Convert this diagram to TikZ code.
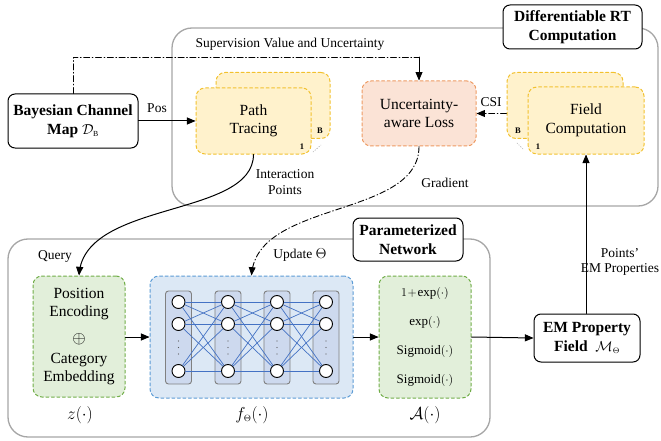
\documentclass[tikz,border=0pt]{standalone}
\usepackage{fontspec}
\setmainfont{Liberation Serif}
\usepackage{amsmath,amssymb}
\usetikzlibrary{arrows}

\definecolor{ptfill}{HTML}{FFF2CC}
\definecolor{ptdraw}{HTML}{F2C12E}
\definecolor{lossfill}{HTML}{FBE3D6}
\definecolor{lossdraw}{HTML}{EE9A62}
\definecolor{encfill}{HTML}{E2EFDA}
\definecolor{encdraw}{HTML}{70AD47}
\definecolor{nnfill}{HTML}{DCE8F5}
\definecolor{nndraw}{HTML}{5B9BD5}
\definecolor{colfill}{HTML}{CDD9EE}
\definecolor{edgeblue}{HTML}{4472C4}
\definecolor{framegray}{HTML}{A6A6A6}

\begin{document}
\begin{tikzpicture}[line cap=round,line join=round,>=triangle 45,x=1pt,y=-1pt,
	txt/.style={font=\fontsize{15.5}{17.5}\selectfont,align=center},
	small/.style={font=\fontsize{13.5}{15.5}\selectfont,align=center},
	blackbox/.style={draw=black,line width=1pt,rounded corners=7pt,fill=white,align=center,inner sep=0pt,font=\fontsize{15.5}{19}\selectfont\bfseries},
	dbox/.style={line width=1pt,dash pattern=on 3pt off 2.5pt,rounded corners=9pt,inner sep=0pt,align=center,font=\fontsize{15.5}{18.5}\selectfont},
	ptbox/.style={dbox,draw=ptdraw,fill=ptfill},
	frame/.style={draw=framegray,line width=1.3pt,rounded corners=20pt},
	dashdot/.style={line width=0.9pt,dash pattern=on 6pt off 2.5pt on 0.8pt off 2.5pt},
	layer/.style={draw=gray,fill=colfill,line width=0.9pt,rounded corners=3pt,minimum width=26pt,minimum height=93pt},
	neuron/.style={circle,draw=black,fill=white,line width=0.9pt,minimum size=13pt,inner sep=0pt},
	actf/.style={font=\fontsize{13}{15}\selectfont},
	stacknum/.style={font=\fontsize{8.5}{9}\selectfont\bfseries},
	mathlabel/.style={font=\fontsize{18}{18}\selectfont}]
	\useasboundingbox (0,0) rectangle (661,441);

	% upper part
	\draw[frame] (172,28) rectangle (658,206);
	\node[blackbox,minimum width=139pt,minimum height=44pt] (rtlabel) at (572.5,27) {Differentiable RT\\Computation};
	\node[blackbox,minimum width=130pt,minimum height=54pt] (bcm) at (73,121) {Bayesian Channel\\Map \normalfont$\mathcal{D}_{\scriptscriptstyle\mathrm{B}}$};

	\node[ptbox,minimum width=114pt,minimum height=66pt] (ptB) at (273,105.5) {};
	\node[ptbox,minimum width=115pt,minimum height=66pt] (pt) at (253.5,121) {Path\\Tracing};
	\node[stacknum] (ptBnum) at (320,131) {B};
	\node[stacknum] (ptnum) at (302,147) {1};
	\draw[dotted,line width=0.6pt,gray] (313,152) -- (321,145);

	\node[dbox,draw=lossdraw,fill=lossfill,minimum width=114pt,minimum height=65pt] (loss) at (419,113.5) {Uncertainty-\\aware Loss};

	\node[ptbox,minimum width=116pt,minimum height=66pt] (fcB) at (565,105.5) {};
	\node[ptbox,minimum width=116pt,minimum height=67pt] (fc) at (586,120.5) {Field\\Computation};
	\node[stacknum] (fcBnum) at (518,131) {B};
	\node[stacknum] (fcnum) at (538,147) {1};
	\draw[dotted,line width=0.6pt,gray] (517,143) -- (524,150);

	\coordinate (supA) at (73,57);
	\coordinate (supB) at (419,57);
	\draw[dashdot] (bcm.north -| supA) -- (supA) -- (supB);
	\draw[->,line width=0.9pt] (supB) -- (loss.north);
	\node[small] (suplabel) at (290,44) {Supervision Value and Uncertainty};

	\draw[->,line width=1pt] (bcm.east) -- (pt.west);
	\node[small] (poslabel) at (157,108) {Pos};
	\draw[->,dashdot] (fcB.west |- loss.east) -- (loss.east);
	\node[small] (csilabel) at (491,102) {CSI};

	% lower part
	\draw[frame] (8,239) rectangle (490,437);
	\node[blackbox,minimum width=110pt,minimum height=43pt] (pnlabel) at (408,239.5) {Parameterized\\Network};

	\node[dbox,draw=encdraw,fill=encfill,minimum width=92pt,minimum height=121pt] (enc) at (79,336.5) {};
	\node[txt] (enctop) at (79,304) {Position\\Encoding};
	\node[font=\fontsize{19}{19}\selectfont] (oplus) at (79,339) {$\oplus$};
	\node[txt] (encbot) at (79,369) {Category\\Embedding};

	\node[dbox,draw=nndraw,fill=nnfill,minimum width=203pt,minimum height=122pt] (nn) at (251.5,337) {};
	\foreach \i/\x in {1/178.5,2/228,3/277,4/326}
	{
		\node[layer] (col\i) at (\x,337.5) {};
		\foreach \j/\y in {a/302,b/324,c/371}
		\node[neuron] (n\i\j) at (\x,\y) {};
		\foreach \y in {341,347.5,354}
		\fill[gray!70!black] (\x,\y) circle (0.7pt);
	}
	\foreach \i/\k in {1/2,2/3,3/4}
	\foreach \j in {a,b,c}
	\foreach \l in {a,b,c}
	\draw[edgeblue,line width=0.7pt] (n\i\j) -- (n\k\l);

	\node[dbox,draw=encdraw,fill=encfill,minimum width=92pt,minimum height=122pt] (act) at (425,337) {};
	\node[actf] (act1) at (425,293) {$1\!+\!\exp(\cdot)$};
	\node[actf] (act2) at (425,322) {$\exp(\cdot)$};
	\node[actf] (act3) at (425,351) {Sigmoid$(\cdot)$};
	\node[actf] (act4) at (425,380) {Sigmoid$(\cdot)$};

	\node[blackbox,minimum width=106pt,minimum height=48pt] (em) at (587,338) {EM Property\\Field \ \normalfont$\mathcal{M}_{\scriptscriptstyle\Theta}$};

	\node[mathlabel] (zlabel) at (80,415) {$z(\cdot)$};
	\node[mathlabel] (flabel) at (252,415) {$f_{\scriptscriptstyle\Theta}(\cdot)$};
	\node[mathlabel] (alabel) at (425,415) {$\mathcal{A}(\cdot)$};

	\draw[->,line width=1pt] (enc.east |- nn.west) -- (nn.west);
	\draw[->,line width=1pt] (nn.east) -- (act.west);
	\draw[->,line width=1pt] (act.east) -- (em.west);
	\draw[->,line width=1pt] (em.north -| fc.south) -- (fc.south);
	\node[small] (emlabel) at (620,262) {Points'\\EM Properties};

	% curved connections between the two parts
	\draw[->,line width=1pt] (pt.south) .. controls (253,218) and (85,200) .. (enc.north);
	\node[small] (iplabel) at (285,182) {Interaction\\Points};
	\node[small] (querylabel) at (55,256) {Query};
	\draw[->,dashdot] (loss.south) .. controls (419,218) and (258,200) .. (nn.north);
	\node[small] (gradlabel) at (445,183) {Gradient};
	\node[small] (updlabel) at (300,255) {Update $\Theta$};
\end{tikzpicture}
\end{document}
